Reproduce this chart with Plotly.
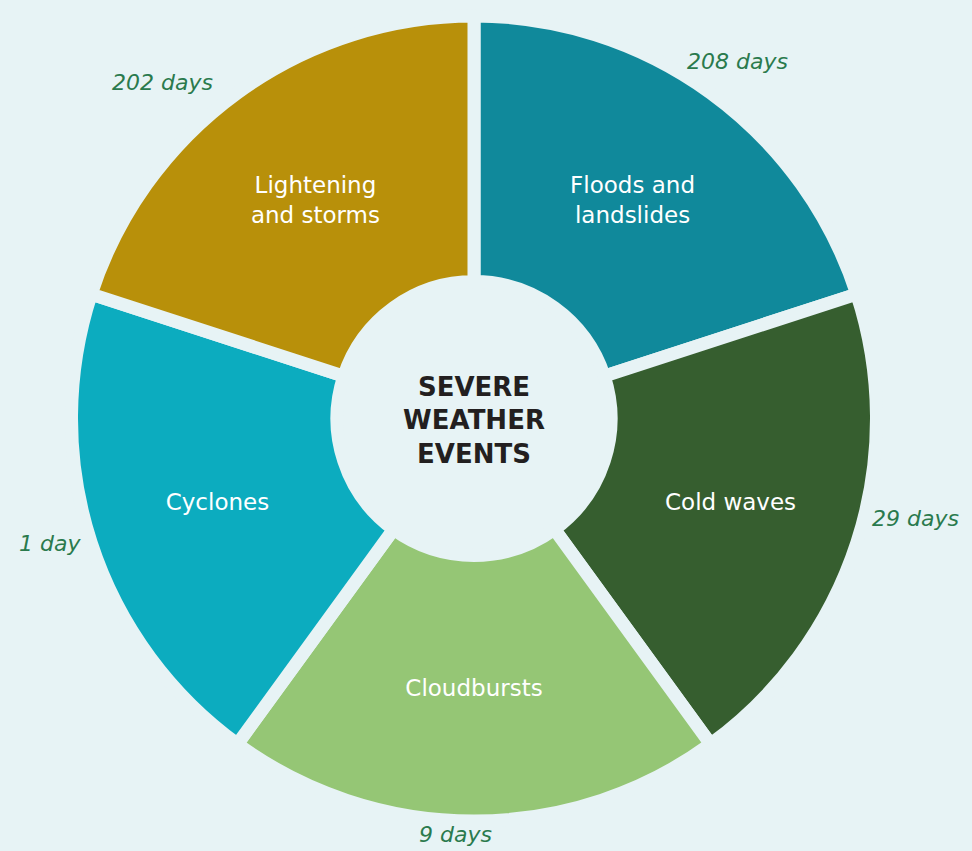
import math
import plotly.graph_objects as go

# ---- data ----
categories = ["Floods and<br>landslides", "Cold waves", "Cloudbursts", "Cyclones", "Lightening<br>and storms"]
shares = [1, 1, 1, 1, 1]
day_labels = ["208 days", "29 days", "9 days", "1 day", "202 days"]
slice_colors = ["#10899b", "#365e2f", "#95c675", "#0cacbf", "#b8900a"]

# ---- layout / style ----
W, H = 972, 851
BG = "#e7f3f5"
PIE_CX, PIE_CY, PIE_R = 474, 418.5, 402.5   # pixel centre (from top-left) and radius
GAP = 13
FONT = "DejaVu Sans"

dom_x = [(PIE_CX - PIE_R) / W, (PIE_CX + PIE_R) / W]
dom_y = [(H - PIE_CY - PIE_R) / H, (H - PIE_CY + PIE_R) / H]

# outside label placement (angle clockwise from 12 o'clock, distance from centre in px)
label_angle_deg = [36.4, 102.8, 182.5, 253.6, 317.1]
label_dist_px = [444, 453, 416, 442, 458]

fig = go.Figure()

fig.add_trace(go.Pie(
    labels=categories,
    values=shares,
    sort=False,
    direction="clockwise",
    rotation=0,
    hole=(143.5 - GAP / 2) / PIE_R,
    domain=dict(x=dom_x, y=dom_y),
    marker=dict(colors=slice_colors, line=dict(color=BG, width=GAP)),
    textinfo="label",
    textposition="inside",
    insidetextorientation="horizontal",
    insidetextfont=dict(color="white", size=23, family=FONT),
    title=dict(text="<b>SEVERE<br>WEATHER<br>EVENTS</b>", position="middle center",
               font=dict(size=26, color="#231f20", family=FONT)),
    showlegend=False,
    hoverinfo="label",
))

for txt, ang, dist in zip(day_labels, label_angle_deg, label_dist_px):
    a = math.radians(ang)
    px = PIE_CX + dist * math.sin(a)
    py = PIE_CY - dist * math.cos(a)
    fig.add_annotation(
        x=px / W, y=1 - py / H, xref="paper", yref="paper",
        text=txt, showarrow=False, xanchor="center", yanchor="middle",
        font=dict(color="#2a7a4d", size=22, family=FONT, style="italic"),
    )

fig.update_layout(
    width=W, height=H,
    margin=dict(l=0, r=0, t=0, b=0),
    paper_bgcolor=BG,
    plot_bgcolor=BG,
)

fig.write_html(
    "out.html",
    config={"displayModeBar": False},
    post_script="document.body.style.margin='0';document.body.style.background='%s';" % BG,
)
